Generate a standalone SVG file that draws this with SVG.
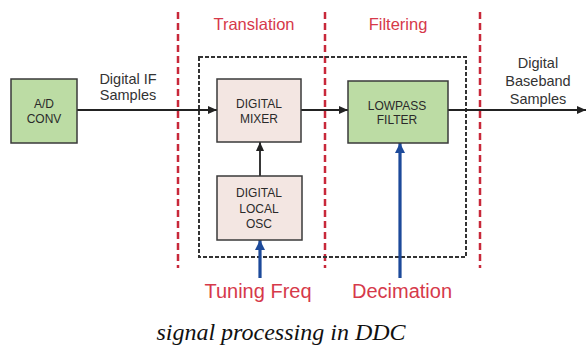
<svg xmlns="http://www.w3.org/2000/svg" width="587" height="349" viewBox="0 0 587 349">
<defs>
<style>
.box{stroke:#3a3a3a;stroke-width:1.5}
.green{fill:#bcdca4}
.pink{fill:#f3e6e2}
.bt{font-family:"Liberation Sans",Arial,sans-serif;font-size:12px;fill:#2a2a2a;text-anchor:middle}
.lbl{font-family:"Liberation Sans",Arial,sans-serif;font-size:14.5px;fill:#333;text-anchor:middle}
.red{font-family:"Liberation Sans",Arial,sans-serif;fill:#d6394a;text-anchor:middle}
.sep{stroke:#c8283a;stroke-width:2.5;stroke-dasharray:7,4;fill:none}
.dot{stroke:#333;stroke-width:2;stroke-dasharray:4,2;fill:none}
.blk{stroke:#222;stroke-width:1.8;fill:none}
.blu{stroke:#1d4a9a;stroke-width:3.2;fill:none}
</style>
<marker id="ab" markerWidth="10" markerHeight="10" refX="9" refY="5" orient="auto" markerUnits="userSpaceOnUse"><path d="M0,1 L9,5 L0,9 Z" fill="#222"/></marker>
<marker id="au" markerWidth="12" markerHeight="12" refX="10" refY="6" orient="auto" markerUnits="userSpaceOnUse"><path d="M0,1 L10,6 L0,11 Z" fill="#1d4a9a"/></marker>
</defs>
<rect width="587" height="349" fill="#fff"/>
<g id="separators">
<line class="sep" x1="178" y1="12" x2="178" y2="268"/>
<line class="sep" x1="325" y1="12" x2="325" y2="268"/>
<line class="sep" x1="480" y1="12" x2="480" y2="268"/>
</g>
<rect id="ddc-boundary" class="dot" x="199" y="57" width="267" height="200"/>
<g id="stage-labels">
<text class="red" x="254" y="30" font-size="16.5">Translation</text>
<text class="red" x="398" y="30" font-size="16.5">Filtering</text>
</g>
<g id="connectors">
<line class="blk" x1="77" y1="110" x2="217" y2="110" marker-end="url(#ab)"/>
<line class="blk" x1="301" y1="110" x2="348" y2="110" marker-end="url(#ab)"/>
<line class="blk" x1="448" y1="110" x2="586" y2="110" marker-end="url(#ab)"/>
<line class="blk" x1="260" y1="176" x2="260" y2="142" marker-end="url(#ab)"/>
<line class="blu" x1="260" y1="278" x2="260" y2="240" marker-end="url(#au)"/>
<line class="blu" x1="400" y1="278" x2="400" y2="143" marker-end="url(#au)"/>
</g>
<g id="adc">
<rect class="box green" x="11" y="79" width="66" height="64"/>
<text class="bt" x="44" y="108">A/D</text>
<text class="bt" x="44" y="123">CONV</text>
</g>
<g id="mixer">
<rect class="box pink" x="217" y="79" width="84" height="63"/>
<text class="bt" x="259" y="108">DIGITAL</text>
<text class="bt" x="259" y="123">MIXER</text>
</g>
<g id="osc">
<rect class="box pink" x="217" y="176" width="85" height="64"/>
<text class="bt" x="259" y="197">DIGITAL</text>
<text class="bt" x="259" y="213">LOCAL</text>
<text class="bt" x="259" y="228">OSC</text>
</g>
<g id="lpf">
<rect class="box green" x="348" y="81" width="100" height="62"/>
<text class="bt" x="397" y="110">LOWPASS</text>
<text class="bt" x="397" y="124">FILTER</text>
</g>
<g id="labels">
<text class="lbl" x="128" y="84">Digital IF</text>
<text class="lbl" x="128" y="100">Samples</text>
<text class="lbl" x="538" y="68">Digital</text>
<text class="lbl" x="538" y="86">Baseband</text>
<text class="lbl" x="538" y="104">Samples</text>
<text class="red" x="258" y="298" font-size="20">Tuning Freq</text>
<text class="red" x="402" y="298" font-size="20">Decimation</text>
</g>
<text x="281" y="340" font-family="'Liberation Serif','Times New Roman',serif" font-style="italic" font-size="24" fill="#111" text-anchor="middle">signal processing in DDC</text>
</svg>
